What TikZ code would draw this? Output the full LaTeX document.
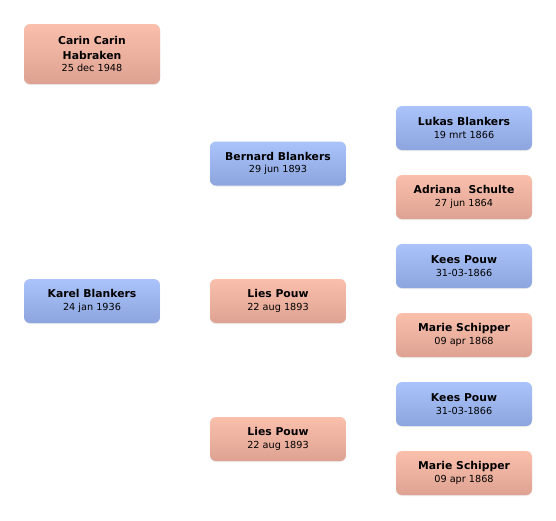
\documentclass[tikz,border=0pt]{standalone}
\usepackage{fontspec}
\setmainfont{DejaVu Sans}
\usepackage{tikz}
\usetikzlibrary{shadows}
\definecolor{maletop}{RGB}{170, 195, 250}
\definecolor{malebottom}{RGB}{140, 165, 222}
\definecolor{femaletop}{RGB}{250, 192, 172}
\definecolor{femalebottom}{RGB}{222, 162, 146}

\begin{document}
\begin{tikzpicture}[x=1pt, y=-1pt,
	person/.style={rounded corners=6pt, minimum width=136pt, minimum height=44pt, align=center, inner sep=2pt,
		font=\fontsize{10.8}{15}\selectfont\bfseries,
		drop shadow={opacity=0.15, shadow xshift=0pt, shadow yshift=-1pt}},
	male/.style={person, top color=maletop, bottom color=malebottom},
	female/.style={person, top color=femaletop, bottom color=femalebottom}]
	
	% bounding box
	\useasboundingbox[fill=white] (0, 0) rectangle (556, 520);
	
	\newcommand{\born}[1]{\\[-2.5pt]{\fontsize{9.7}{11}\selectfont\mdseries #1}}
	
	% --- Partner ---
	\node[female, minimum height=60pt] (carin) at (92, 54) {Carin Carin\\Habraken\born{25 dec 1948}};
	
	% --- Root ---
	\node[male] (karel) at (92, 301) {Karel Blankers\born{24 jan 1936}};
	
	% --- Parents ---
	\node[male] (bernard) at (278, 163.5) {Bernard Blankers\born{29 jun 1893}};
	\node[female] (lies) at (278, 301) {Lies Pouw\born{22 aug 1893}};
	\node[female] (lies2) at (278, 439) {Lies Pouw\born{22 aug 1893}};
	
	% --- Grandparents ---
	\node[male] (lukas) at (464, 128) {Lukas Blankers\born{19 mrt 1866}};
	\node[female] (adriana) at (464, 197) {Adriana\ \ Schulte\born{27 jun 1864}};
	\node[male] (kees) at (464, 266) {Kees Pouw\born{31-03-1866}};
	\node[female] (marie) at (464, 335) {Marie Schipper\born{09 apr 1868}};
	\node[male] (kees2) at (464, 404) {Kees Pouw\born{31-03-1866}};
	\node[female] (marie2) at (464, 473) {Marie Schipper\born{09 apr 1868}};
	
\end{tikzpicture}
\end{document}
